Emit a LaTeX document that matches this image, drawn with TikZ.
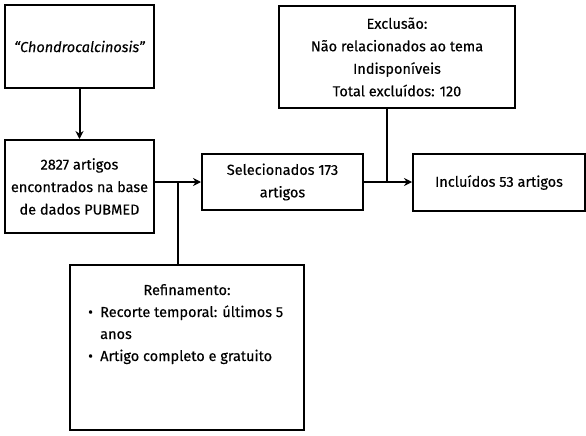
\documentclass[tikz,border=0pt]{standalone}
\usepackage{fontspec}
\setmainfont{Fira Sans}[FakeBold=0.3]
\usetikzlibrary{arrows.meta}
\begin{document}
\begin{tikzpicture}[x=1pt,y=-1pt,
  box/.style={draw=black, line width=2pt, fill=white, align=center, inner sep=0pt,
    font=\fontsize{14.5}{22.5}\selectfont},
  txt/.style={inner sep=0pt, anchor=base west, font=\fontsize{14.5}{22}\selectfont},
  arr/.style={line width=2pt, -{Stealth[length=8pt,width=8pt]}},
  ln/.style={line width=2pt}]
\useasboundingbox[fill=white] (0,0) rectangle (586,436);
\node[box, minimum width=149pt, minimum height=83pt] (b1) at (79.5,46.5) {\itshape “Chondrocalcinosis”};
\node[box, minimum width=149pt, minimum height=93pt] (b2) at (79.5,186.5) {2827 artigos\\encontrados na base\\de dados PUBMED};
\node[box, minimum width=161pt, minimum height=56pt] (b3) at (282.5,182) {Selecionados 173\\artigos};
\node[box, minimum width=236pt, minimum height=102pt] (b5) at (397,57) {Exclusão:\\Não relacionados ao tema\\Indisponíveis\\Total excluídos: 120};
\node[box, minimum width=172pt, minimum height=57pt] (b6) at (499,182.5) {Incluídos 53 artigos};
\node[box, minimum width=234pt, minimum height=165pt, anchor=north west] (b4) at (69,264) {};
\node[txt, anchor=base] (r0) at (187,295) {Refinamento:};
\node[txt] (r1b) at (88,317) {•};
\node[txt] (r1) at (100,317) {Recorte temporal: últimos 5};
\node[txt] (r2) at (100,339) {anos};
\node[txt] (r3b) at (88,361) {•};
\node[txt] (r3) at (100,361) {Artigo completo e gratuito};
\coordinate (j1) at (178,182);
\coordinate (j2) at (387,182);
\draw[arr] (b1.south) -- (b2.north);
\draw[arr] (b3.west -| b2.east) -- (b3.west);
\draw[ln] (j1) -- (j1 |- b4.north);
\draw[arr] (b3.east) -- (b6.west |- b3.east);
\draw[ln] (j2 |- b5.south) -- (j2);
\end{tikzpicture}
\end{document}
